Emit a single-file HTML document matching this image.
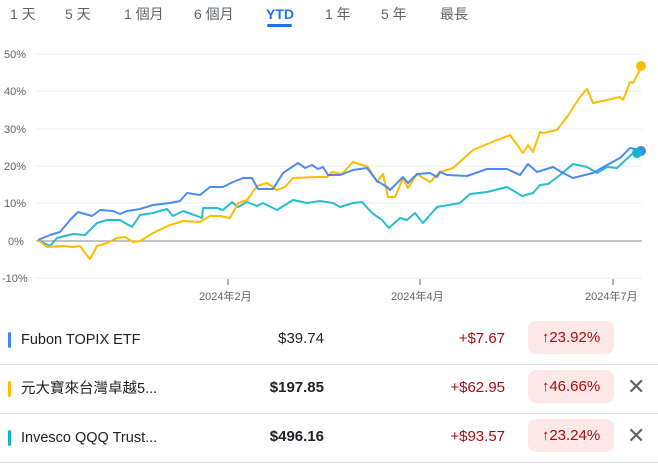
<!DOCTYPE html>
<html><head><meta charset="utf-8"><style>
body{margin:0;width:658px;height:468px;background:#fff;font-family:"Liberation Sans","Noto Sans CJK TC",sans-serif;position:relative;overflow:hidden;color:#202124}
.tab{position:absolute;top:5px;font-size:14px;color:#5f6368;line-height:18px}
.row{position:absolute;left:0;width:658px;height:48px}
.bar{position:absolute;left:8px;top:16px;width:3px;height:16px;border-radius:2px}
.name{position:absolute;left:21px;top:15px;font-size:14.5px;color:#202124;line-height:18px;height:18px;white-space:nowrap}
.price{position:absolute;right:334px;top:14px;font-size:15px;font-weight:bold;color:#202124;line-height:18px}
.chg{position:absolute;right:153px;top:14px;font-size:15px;color:#a50e0e;line-height:18px}
.badge{position:absolute;left:528px;top:5px;width:86px;height:33px;border-radius:8px;background:#fce8e6;color:#a50e0e;font-size:15px;line-height:33px;text-align:center}
.x{position:absolute;left:627px;top:9px;font-size:22px;color:#5f6368;line-height:26px}
.sep{position:absolute;left:0;width:658px;height:1px;background:#dadce0}
</style></head><body>
<div class="tab" style="left:10px">1 天</div>
<div class="tab" style="left:65px">5 天</div>
<div class="tab" style="left:124px">1 個月</div>
<div class="tab" style="left:194px">6 個月</div>
<div class="tab" style="left:266px;color:#1a73e8;font-weight:bold">YTD</div>
<div style="position:absolute;left:267px;top:24px;width:25px;height:3px;background:#1a73e8;border-radius:2px"></div>
<div class="tab" style="left:325px">1 年</div>
<div class="tab" style="left:381px">5 年</div>
<div class="tab" style="left:440px">最長</div>
<svg width="658" height="310" style="position:absolute;left:0;top:0" font-family="Liberation Sans, Noto Sans CJK TC, sans-serif">
<g stroke="#eeeeee" stroke-width="1">
<line x1="36" x2="642" y1="54" y2="54"/><line x1="36" x2="642" y1="91" y2="91"/><line x1="36" x2="642" y1="129" y2="129"/><line x1="36" x2="642" y1="166" y2="166"/><line x1="36" x2="642" y1="203" y2="203"/><line x1="36" x2="642" y1="278" y2="278"/>
</g>
<line x1="36" x2="642" y1="241" y2="241" stroke="#80868b" stroke-width="1"/>
<g font-size="11" fill="#5f6368">
<text x="4" y="58">50%</text><text x="4" y="95">40%</text><text x="4" y="133">30%</text><text x="4" y="170">20%</text><text x="4" y="207">10%</text><text x="8" y="245">0%</text><text x="2" y="282">-10%</text>
<text x="199" y="300">2024年2月</text><text x="391" y="300">2024年4月</text><text x="585" y="300">2024年7月</text>
</g>
<g stroke="#5f6368"><line x1="228" x2="228" y1="279" y2="285"/><line x1="420" x2="420" y1="279" y2="285"/><line x1="613" x2="613" y1="279" y2="285"/></g>
<g fill="none" stroke-width="2" stroke-linejoin="round">
<polyline stroke="#12b5cb" stroke-opacity="0.9" points="38,240 50,246 57,238 73,234 85,235 97,223 107,220 120,220 132,227 140,215 153,213 167,209 173,216 183,211 197,216 202,218 203,208 217,208 223,210 232,202 238,207 247,202 257,206 263,203 277,210 293,200 307,203 320,201 333,203 340,207 353,203 362,202 372,213 382,220 389,228 400,218 407,220 415,213 423,223 437,207 460,203 470,194 487,192 507,187 522,196 533,193 540,185 548,184 560,175 573,164 587,167 597,173 607,167 617,168 633,153 637,153"/>
<polyline stroke="#fbbc04" points="38,240 47,247 63,246 73,247 80,246 85,253 90,259 97,246 107,243 117,238 125,237 133,242 140,241 153,233 170,225 183,221 200,222 210,216 220,216 230,218 238,203 247,200 257,186 267,183 277,190 285,187 293,178 317,177 327,177 332,172 342,174 353,162 368,167 377,182 383,174 388,197 395,197 403,178 408,188 417,174 430,182 440,172 453,168 473,150 497,140 510,135 523,153 528,145 533,152 540,132 543,133 557,130 567,117 580,97 587,89 593,103 607,100 620,97 623,100 630,82 633,83 640,70 641,66"/>
<polyline stroke="#4285f4" stroke-opacity="0.95" points="38,240 50,235 60,232 70,220 78,212 85,214 92,216 100,210 113,211 120,214 127,211 140,209 153,205 170,203 180,201 187,193 200,195 210,187 223,187 233,182 243,178 252,178 258,189 273,189 283,173 298,163 305,168 312,165 318,169 323,167 328,175 340,175 353,170 367,168 377,181 387,187 390,190 403,177 408,183 417,174 430,173 437,177 440,172 447,175 467,176 487,169 507,169 520,175 528,164 537,172 553,167 563,173 573,178 593,173 607,165 620,158 630,148 640,150"/>
</g>
<circle cx="641" cy="151" r="5" fill="#4285f4"/>
<circle cx="637" cy="153" r="5" fill="#12b5cb"/>
<circle cx="641" cy="66" r="5" fill="#fbbc04"/>
</svg>
<div class="row" style="top:316px"><div class="bar" style="background:#4285f4"></div><div class="name">Fubon TOPIX ETF</div><div class="price" style="font-weight:normal">$39.74</div><div class="chg">+$7.67</div><div class="badge">↑23.92%</div></div>
<div class="sep" style="top:364px"></div>
<div class="row" style="top:365px"><div class="bar" style="background:#fbbc04"></div><div class="name">元大寶來台灣卓越5...</div><div class="price">$197.85</div><div class="chg">+$62.95</div><div class="badge">↑46.66%</div><div class="x">✕</div></div>
<div class="sep" style="top:413px"></div>
<div class="row" style="top:414px"><div class="bar" style="background:#12b5cb"></div><div class="name">Invesco QQQ Trust...</div><div class="price">$496.16</div><div class="chg">+$93.57</div><div class="badge">↑23.24%</div><div class="x">✕</div></div>
<div class="sep" style="top:462px"></div>
</body></html>
